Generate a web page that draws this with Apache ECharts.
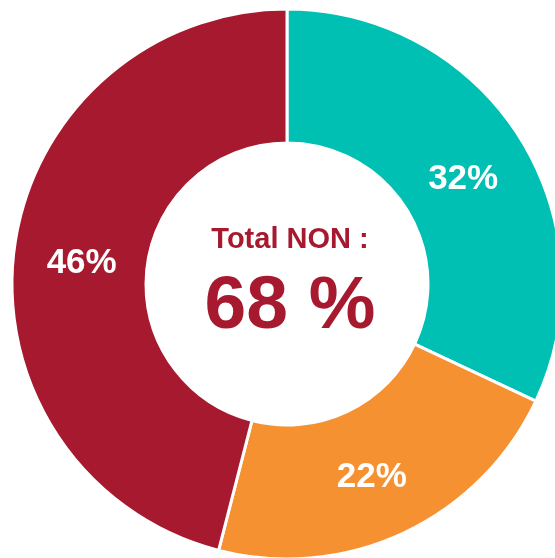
<!DOCTYPE html>
<html lang="en">
<head>
    <meta charset="UTF-8">
    <title>Total NON</title>
    <script src="https://cdn.jsdelivr.net/npm/echarts@6/dist/echarts.min.js"></script>
    <style>
        html, body { margin: 0; padding: 0; background: #fff; }
    </style>
</head>
<body>
    <div id="main" style="width: 555px;height:558px;"></div>
    <script type="text/javascript">
        // data
        var labels = ['32%', '22%', '46%'];
        var values = [32, 22, 46];
        var colors = ['#00BFB3', '#F59131', '#A6192E'];
        var totalTitle = 'Total NON :';
        var totalValue = '68 %';

        var myChart = echarts.init(document.getElementById('main'));

        var data = [];
        for (var i = 0; i < values.length; i++) {
            data.push({
                name: labels[i],
                value: values[i],
                itemStyle: { color: colors[i] }
            });
        }

        var option = {
            animation: false,
            title: {
                text: totalTitle,
                subtext: totalValue,
                left: 285,
                top: 220,
                textAlign: 'center',
                itemGap: 16,
                textStyle: {
                    fontFamily: 'Liberation Sans',
                    fontSize: 29,
                    fontWeight: 'bold',
                    color: '#A6192E'
                },
                subtextStyle: {
                    fontFamily: 'Liberation Sans',
                    fontSize: 75,
                    fontWeight: 'bold',
                    color: '#A6192E'
                }
            },
            series: [{
                type: 'pie',
                center: [287, 284],
                radius: [141, 275],
                startAngle: 90,
                clockwise: true,
                silent: true,
                itemStyle: {
                    borderColor: '#fff',
                    borderWidth: 3
                },
                label: {
                    show: true,
                    position: 'inside',
                    formatter: '{b}',
                    fontFamily: 'Liberation Sans',
                    fontSize: 35,
                    fontWeight: 'bold',
                    color: '#fff'
                },
                labelLine: { show: false },
                labelLayout: function (params) {
                    if (params.dataIndex === 0) return { dx: -2, dy: 8 };
                    if (params.dataIndex === 1) return { dx: -5, dy: 2 };
                    if (params.dataIndex === 2) return { dx: 4, dy: 6 };
                    return {};
                },
                data: data
            }]
        };
        myChart.setOption(option);
    </script>
</body>
</html>
